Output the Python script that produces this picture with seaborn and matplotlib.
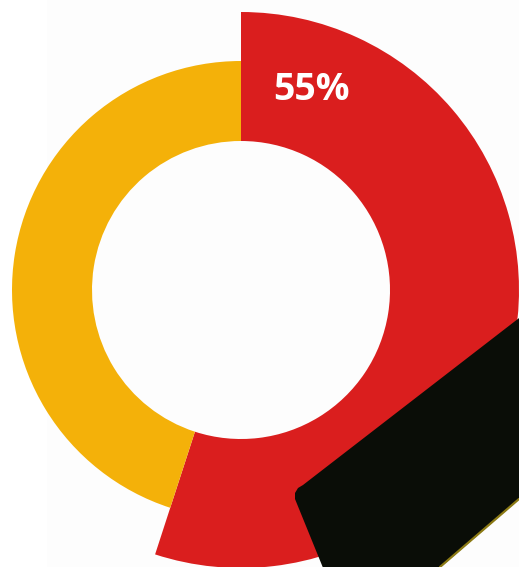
#!/usr/bin/env python3
# -*- coding: utf-8 -*-

from matplotlib import pyplot as plt
from matplotlib.patches import Polygon, Rectangle
import numpy as np
import seaborn as sns

# data
segments = ['Share A', 'Share B']
shares = [55, 45]
segment_colors = ['#da1e1e', '#f4b109']
label_text = '55%'


class Constants:
    WIDTH_PX = 519
    HEIGHT_PX = 567
    DPI = 100
    CENTER_PX = (241, 290)      # pie centre in image pixels
    INNER_R = 149
    OUTER_R = [278, 229]        # outer radius of each segment
    BG = '#fdfdfd'
    # dark object lying over the lower right corner (image pixels)
    OBJECT_PX = [(295, 499), (295, 493), (298, 488), (303, 485), (545, 298),
                 (545, 477), (420, 585), (330, 585)]
    OBJECT_EDGE_PX = [(440, 567), (519, 499)]


def px_to_fig(pts):
    return [(x / Constants.WIDTH_PX, 1 - y / Constants.HEIGHT_PX) for x, y in pts]


sns.set_theme(style='white')
plt.rcParams['font.family'] = ['Open Sans', 'DejaVu Sans']

fig = plt.figure(figsize=(Constants.WIDTH_PX / Constants.DPI, Constants.HEIGHT_PX / Constants.DPI),
                 dpi=Constants.DPI, facecolor=Constants.BG)
fig.patches.append(Rectangle((0, 0), 47 / Constants.WIDTH_PX, 1, transform=fig.transFigure,
                             facecolor='white', edgecolor='none', zorder=-1))

ax = fig.add_axes([0, 0, 1, 1])
ax.set_facecolor('none')

wedges, _ = ax.pie(shares, colors=segment_colors, startangle=90, counterclock=False,
                   radius=Constants.OUTER_R[0],
                   wedgeprops=dict(width=Constants.OUTER_R[0] - Constants.INNER_R, linewidth=0))
for w, r in zip(wedges, Constants.OUTER_R):
    w.set_radius(r)
    w.set_width(r - Constants.INNER_R)

cx, cy = Constants.CENTER_PX
ax.set_xlim(-cx, Constants.WIDTH_PX - cx)
ax.set_ylim(-(Constants.HEIGHT_PX - cy), cy)
ax.set_aspect('equal')
ax.axis('off')

# label sits on the middle of the red ring, a little past its start
ang = np.deg2rad(90 - 19)
rmid = (Constants.INNER_R + Constants.OUTER_R[0]) / 2
ax.text(rmid * np.cos(ang) + 1, rmid * np.sin(ang) - 2, label_text, color='white',
        fontsize=27, fontweight='bold', ha='center', va='center')

# dark object in the corner
fig.patches.append(Polygon(px_to_fig(Constants.OBJECT_PX), closed=True, transform=fig.transFigure,
                           facecolor='#0a0d07', edgecolor='none', zorder=5))
edge = px_to_fig(Constants.OBJECT_EDGE_PX)
fig.lines.append(plt.Line2D([p[0] for p in edge], [p[1] for p in edge], transform=fig.transFigure,
                            color='#8c7a14', linewidth=1.6, zorder=6))

plt.savefig('out.png', dpi=Constants.DPI, facecolor=Constants.BG)
